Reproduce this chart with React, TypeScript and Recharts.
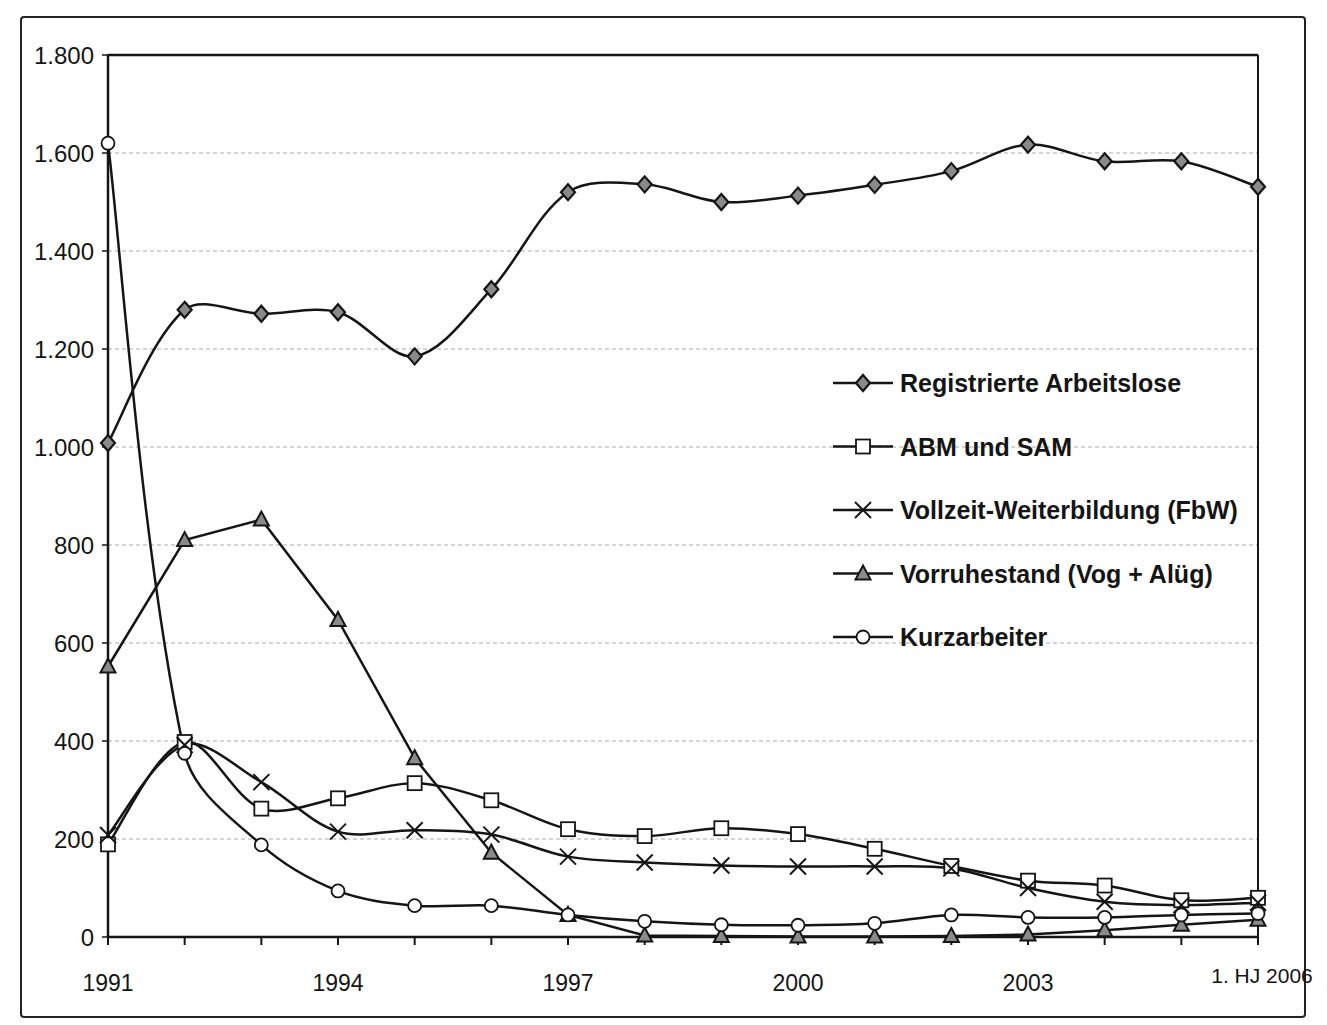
import React from "react";
import { LineChart, Line, XAxis, YAxis, CartesianGrid, ReferenceLine, Legend } from "recharts";

const categories = ["1991","1992","1993","1994","1995","1996","1997","1998","1999","2000","2001","2002","2003","2004","2005","1. HJ 2006"];
const registrierte = [1008,1280,1272,1275,1185,1322,1520,1536,1500,1513,1535,1563,1617,1583,1583,1531];
const abmSam = [189,398,262,283,314,279,220,206,222,210,180,145,115,105,75,80];
const vollzeit = [208,392,316,215,218,209,164,152,146,144,144,140,100,72,65,70];
const vorruhestand = [552,810,852,647,365,172,45,3,2,1,1,2,5,14,25,35];
const kurzarbeiter = [1620,375,188,94,64,64,45,32,25,24,28,45,40,40,45,48];
const yTicks = [0,200,400,600,800,1000,1200,1400,1600,1800];
const labelIdx = [0,3,6,9,12,15];

const seriesNames = ["Registrierte Arbeitslose","ABM und SAM","Vollzeit-Weiterbildung (FbW)","Vorruhestand (Vog + Alüg)","Kurzarbeiter"];

const data = categories.map((c, i) => ({
  cat: c,
  reg: registrierte[i],
  abm: abmSam[i],
  voll: vollzeit[i],
  vor: vorruhestand[i],
  kurz: kurzarbeiter[i],
}));

// Spreadsheet-like smoothed line: Bezier with chord-length-weighted tangents
function smoothCurve(context: any) {
  let pts: number[][] = [];
  const dist = (a: number[], b: number[]) => Math.hypot(b[0] - a[0], b[1] - a[1]);
  const T = 1 / 3;
  return {
    areaStart() {},
    areaEnd() {},
    lineStart() { pts = []; },
    point(x: number, y: number) { pts.push([+x, +y]); },
    lineEnd() {
      if (!pts.length) return;
      context.moveTo(pts[0][0], pts[0][1]);
      for (let i = 0; i < pts.length - 1; i++) {
        const p0 = pts[i - 1] || pts[i];
        const p1 = pts[i];
        const p2 = pts[i + 1];
        const p3 = pts[i + 2] || pts[i + 1];
        const d01 = dist(p0, p1), d12 = dist(p1, p2), d23 = dist(p2, p3);
        const f1 = d01 + d12 > 0 ? (T * d12) / (d01 + d12) : 0;
        const f2 = d12 + d23 > 0 ? (T * d12) / (d12 + d23) : 0;
        const k1 = i === 0 ? T / 2 : f1;
        const k2 = i === pts.length - 2 ? T / 2 : f2;
        const c1x = p1[0] + (p2[0] - p0[0]) * k1;
        const c1y = p1[1] + (p2[1] - p0[1]) * k1;
        const c2x = p2[0] - (p3[0] - p1[0]) * k2;
        const c2y = p2[1] - (p3[1] - p1[1]) * k2;
        context.bezierCurveTo(c1x, c1y, c2x, c2y, p2[0], p2[1]);
      }
    },
  };
}

const INK = "#151515";

function Marker({ kind, cx, cy }: { kind: string; cx: number; cy: number }) {
  if (cx == null || cy == null) return null;
  switch (kind) {
    case "diamond":
      return <polygon points={`${cx},${cy - 8} ${cx + 7},${cy} ${cx},${cy + 8} ${cx - 7},${cy}`} fill="#8a8a8a" stroke={INK} strokeWidth={2.2} />;
    case "square":
      return <rect x={cx - 7} y={cy - 7} width={14} height={14} fill="#fff" stroke={INK} strokeWidth={1.8} />;
    case "x":
      return (
        <g stroke={INK} strokeWidth={2}>
          <line x1={cx - 8} y1={cy - 8} x2={cx + 8} y2={cy + 8} />
          <line x1={cx - 8} y1={cy + 8} x2={cx + 8} y2={cy - 8} />
        </g>
      );
    case "triangle":
      return <polygon points={`${cx},${cy - 8} ${cx + 7.5},${cy + 6} ${cx - 7.5},${cy + 6}`} fill="#8a8a8a" stroke={INK} strokeWidth={2} />;
    case "circle":
      return <circle cx={cx} cy={cy} r={6.5} fill="#fff" stroke={INK} strokeWidth={1.8} />;
  }
  return null;
}

const markerKinds = ["diamond","square","x","triangle","circle"];

const fmt = (v: number) => {
  const s = String(v);
  return s.length > 3 ? s.slice(0, s.length - 3) + "." + s.slice(-3) : s;
};

function XTick(props: any) {
  const { x, y, payload, index } = props;
  const idx = payload && payload.index != null ? payload.index : index;
  if (!labelIdx.includes(idx)) return null;
  const last = idx === 15;
  return (
    <text x={last ? x + 4 : x} y={y + (last ? 36 : 44)} textAnchor="middle" fontSize={last ? 21 : 23} fill={INK} fontFamily="'Liberation Sans', Arial, sans-serif">
      {payload.value}
    </text>
  );
}

function LegendContent() {
  return (
    <svg width={420} height={300} style={{ overflow: "visible", display: "block" }}>
      {seriesNames.map((n, i) => {
        const cy = 15 + i * 63.5;
        return (
          <g key={n}>
            <line x1={0} y1={cy} x2={60} y2={cy} stroke={INK} strokeWidth={2.5} />
            <Marker kind={markerKinds[i]} cx={30} cy={cy} />
            <text x={67} y={cy + 9} fontSize={25} fontWeight="bold" fill={INK} fontFamily="'Liberation Sans', Arial, sans-serif">
              {n}
            </text>
          </g>
        );
      })}
    </svg>
  );
}

export default function App() {
  const keys = ["reg","abm","voll","vor","kurz"];
  return (
    <div style={{ position: "absolute", left: 0, top: 0, width: 1327, height: 1025, background: "#fff" }}>
      <div style={{ position: "absolute", left: 20, top: 16, width: 1282, height: 998, border: "2px solid #222", borderRadius: 4 }} />
      <div style={{ position: "absolute", left: 0, top: 0 }}>
        <LineChart width={1327} height={1025} data={data} margin={{ top: 55, right: 69, left: 14, bottom: 38 }}>
          <CartesianGrid horizontal vertical={false} stroke="#aaa" strokeDasharray="4 3" />
          <XAxis
            dataKey="cat"
            interval={0}
            height={50}
            tick={<XTick />}
            tickLine={{ stroke: INK, strokeWidth: 2 }}
            tickSize={8}
            axisLine={{ stroke: INK, strokeWidth: 2.5 }}
          />
          <YAxis
            width={94}
            domain={[0, 1800]}
            ticks={yTicks}
            tickFormatter={fmt}
            tick={{ fontSize: 24, fill: INK, fontFamily: "'Liberation Sans', Arial, sans-serif", dx: -6 }}
            tickLine={{ stroke: INK, strokeWidth: 1.5 }}
            tickSize={6}
            axisLine={{ stroke: INK, strokeWidth: 2.5 }}
          />
          <ReferenceLine y={1800} stroke={INK} strokeWidth={2.5} />
          <ReferenceLine x="1. HJ 2006" stroke={INK} strokeWidth={2} />
          {keys.map((k, i) => (
            <Line
              key={k}
              dataKey={k}
              name={seriesNames[i]}
              type={k === "vor" ? "linear" : (smoothCurve as any)}
              stroke={INK}
              strokeWidth={2.5}
              isAnimationActive={false}
              dot={(p: any) => <Marker key={`${k}-${p.index}`} kind={markerKinds[i]} cx={p.cx} cy={p.cy} />}
              activeDot={false}
            />
          ))}
          <Legend
            content={<LegendContent />}
            layout="vertical"
            align="center"
            verticalAlign="middle"
            wrapperStyle={{ position: "absolute", left: 833, top: 368, width: 420, height: 300 }}
          />
        </LineChart>
      </div>
    </div>
  );
}
